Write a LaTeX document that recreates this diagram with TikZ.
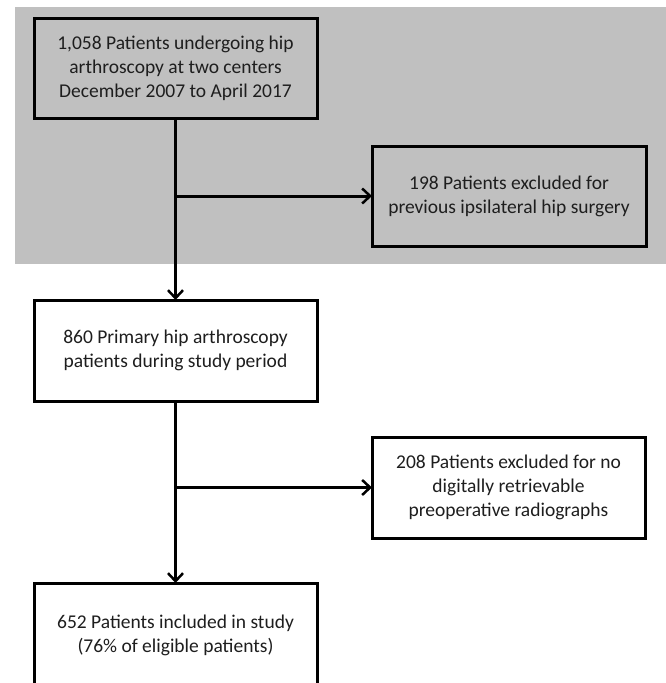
\documentclass[tikz,border=0pt]{standalone}
\usepackage{fontspec}
\setmainfont{Carlito}
\usetikzlibrary{arrows.meta}
\definecolor{bggray}{RGB}{192,192,192}
\definecolor{txt}{RGB}{30,30,30}
\begin{document}
\begin{tikzpicture}[x=1pt,y=-1pt,
  box/.style={draw=black,line width=3pt,rectangle,inner sep=4pt,outer sep=0pt,align=center,
    text=txt,font=\fontsize{19.5}{24}\selectfont},
  conn/.style={line width=3pt,-{Straight Barb[length=8pt,width=15pt,line width=2.5pt]}}]
\useasboundingbox (0,0) rectangle (666,683);
\clip (0,0) rectangle (666,683);
\fill[white] (0,0) rectangle (666,683);
\fill[bggray] (15,7) rectangle (666,264);
\node[box,minimum width=283pt,minimum height=100pt] (b1) at (175.5,68)
  {1,058 Patients undergoing hip\\arthroscopy at two centers\\December 2007 to April 2017};
\node[box,minimum width=274pt,minimum height=100pt] (b198) at (509,196)
  {198 Patients excluded for\\previous ipsilateral hip surgery};
\node[box,fill=white,minimum width=283pt,minimum height=101pt] (b2) at (175.5,350.5)
  {860 Primary hip arthroscopy\\patients during study period};
\node[box,fill=white,minimum width=273pt,minimum height=101pt] (b208) at (508.5,487.5)
  {208 Patients excluded for no\\digitally retrievable\\preoperative radiographs};
\node[box,fill=white,minimum width=283pt,minimum height=104pt] (b3) at (175.5,635)
  {652 Patients included in study\\(76\% of eligible patients)};
\draw[conn] (b1.south) -- (b2.north);
\draw[conn] (b198.west -| b1.south) -- (b198.west);
\draw[conn] (b2.south) -- (b3.north);
\draw[conn] (b208.west -| b2.south) -- (b208.west);
\end{tikzpicture}
\end{document}
